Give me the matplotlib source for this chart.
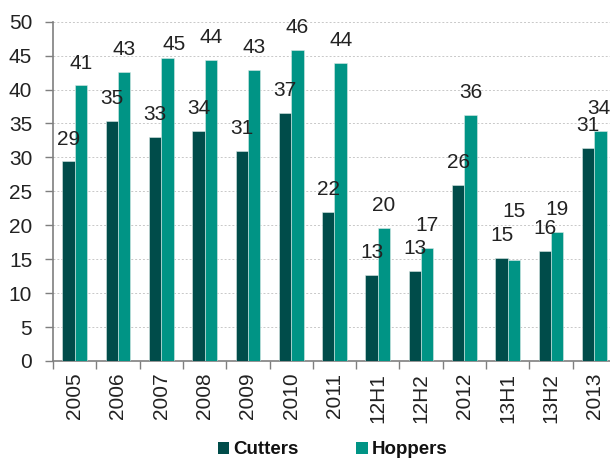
import matplotlib
matplotlib.use("Agg")
import matplotlib.pyplot as plt
import numpy as np
from matplotlib.patches import Patch

categories = ["2005", "2006", "2007", "2008", "2009", "2010", "2011",
              "12H1", "12H2", "2012", "13H1", "13H2", "2013"]
cutters = [29.4, 35.4, 33.0, 33.9, 31.0, 36.6, 21.9, 12.7, 13.3, 26.0, 15.2, 16.2, 31.4]
hoppers = [40.6, 42.6, 44.6, 44.4, 42.9, 45.8, 43.9, 19.6, 16.6, 36.3, 14.9, 19.0, 33.9]

c_cut = "#004c4a"
c_hop = "#009485"
txt = "#222222"
axis_col = "#7f7f7f"

plt.rcParams["font.family"] = ["Liberation Sans", "DejaVu Sans"]

fig = plt.figure(figsize=(6.10, 4.58), dpi=100)
ax = fig.add_axes([53 / 610, 97 / 458, 563 / 610, 339.3 / 458])

x = np.arange(len(categories))
w = 0.285
b1 = ax.bar(x - w / 2, cutters, w, color=c_cut, edgecolor="#d9e8e6", linewidth=0.4, zorder=3)
b2 = ax.bar(x + w / 2, hoppers, w, color=c_hop, edgecolor="#d9e8e6", linewidth=0.4, zorder=3)

# value labels sit ~12pt above each bar; a few are nudged to stay clear of neighbours
nudge = {("h", 2): (5, -6), ("h", 10): (0, 19), ("h", 12): (-1.5, 0)}
for key, bars, vals in (("c", b1, cutters), ("h", b2, hoppers)):
    for i, (r, v) in enumerate(zip(bars, vals)):
        dx, dy = nudge.get((key, i), (0, 0))
        ax.annotate(f"{v:.0f}", (r.get_x() + r.get_width() / 2, v),
                    xytext=(dx, 12.2 + dy), textcoords="offset points",
                    ha="center", va="baseline", fontsize=15, color=txt, zorder=4)

ax.set_xlim(-0.5, len(categories) - 0.5)
ax.set_ylim(0, 50)
ax.set_yticks(np.arange(0, 51, 5))
ax.yaxis.grid(True, linestyle=(0, (2, 2)), color="#c8c8c8", linewidth=0.7, zorder=0)
ax.set_axisbelow(True)

ax.set_xticks(x)
ax.set_xticklabels(categories, rotation=90, fontsize=15, color=txt)
ax.set_xticks(np.arange(-0.5, len(categories), 1), minor=True)
ax.tick_params(axis="x", which="major", length=0, pad=8.5)
ax.tick_params(axis="x", which="minor", length=6, color=axis_col, width=1)
ax.tick_params(axis="y", length=6, color=axis_col, width=1, pad=9, labelsize=15, labelcolor=txt)

for s in ("top", "right"):
    ax.spines[s].set_visible(False)
for s in ("left", "bottom"):
    ax.spines[s].set_color(axis_col)
    ax.spines[s].set_linewidth(1.2)

handles = [Patch(facecolor=c_cut, label="Cutters"), Patch(facecolor=c_hop, label="Hoppers")]
leg = fig.legend(handles=handles, loc="center", bbox_to_anchor=(332.5 / 610, 1 - 450 / 458),
                 ncol=2, frameon=False, handlelength=0.6, handleheight=0.6,
                 handletextpad=0.2, columnspacing=3.1,
                 prop={"weight": "bold", "size": 13.5})
for t in leg.get_texts():
    t.set_color("#111111")

fig.savefig("out.png", dpi=100)
